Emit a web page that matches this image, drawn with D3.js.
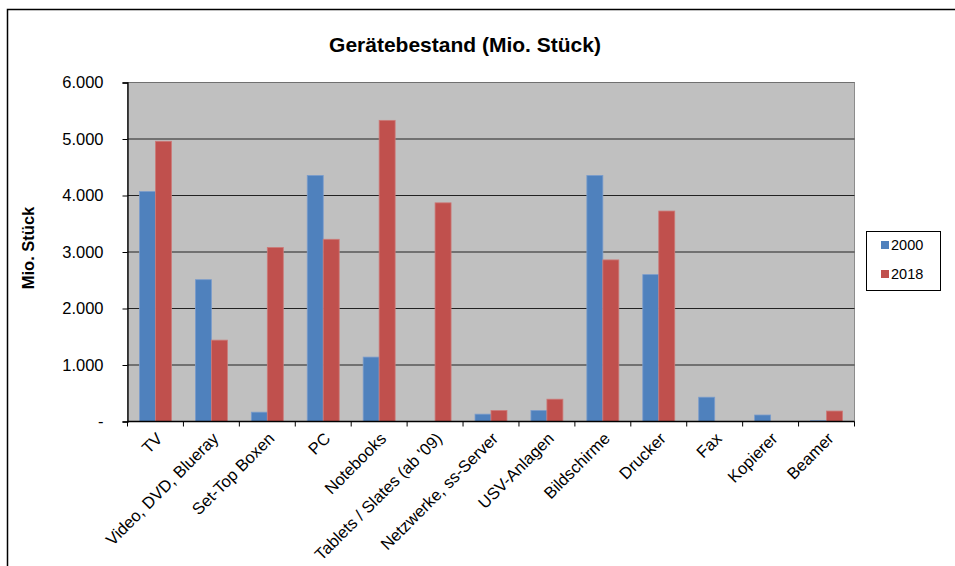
<!DOCTYPE html>
<html>
<head>
<meta charset="utf-8">
<script src="https://cdn.jsdelivr.net/npm/d3@7"></script>
<style>
  html, body { margin: 0; padding: 0; background: #fff; }
  svg { display: block; font-family: "Liberation Sans", Arial, sans-serif; }
</style>
</head>
<body>
<svg id="chart" width="955" height="566"></svg>
<script>
// Gerätebestand in Deutschland, Mio. Stück
const categories = ["TV", "Video, DVD, Blueray", "Set-Top Boxen", "PC", "Notebooks",
  "Tablets / Slates (ab '09)", "Netzwerke, ss-Server", "USV-Anlagen", "Bildschirme",
  "Drucker", "Fax", "Kopierer", "Beamer"];
const seriesNames = ["2000", "2018"];
const values2000 = [4070, 2510, 165, 4355, 1140, 0, 130, 195, 4355, 2600, 430, 115, 15];
const values2018 = [4960, 1440, 3080, 3225, 5330, 3870, 195, 395, 2860, 3725, 0, 0, 185];
const yTicks = [0, 1000, 2000, 3000, 4000, 5000, 6000];
const colors = ["#4f81bd", "#c0504d"];

const svg = d3.select("#chart");
const plot = { left: 127.5, top: 82.5, right: 854.5, bottom: 421.5 };

// outer frame (top and left edges visible)
svg.append("rect").attr("x", 7.5).attr("y", 9.5).attr("width", 1000).attr("height", 1000)
  .attr("fill", "#fff").attr("stroke", "#000").attr("stroke-width", 1.5);

const x = d3.scaleBand().domain(categories).range([plot.left, plot.right]).padding(0);
const y = d3.scaleLinear().domain([0, 6000]).range([plot.bottom, plot.top]);

// plot background
svg.append("rect").attr("x", plot.left).attr("y", plot.top)
  .attr("width", plot.right - plot.left).attr("height", plot.bottom - plot.top)
  .attr("fill", "#c0c0c0").attr("stroke", "#8c8c8c").attr("stroke-width", 1);

// horizontal gridlines
svg.append("g").selectAll("line").data(yTicks.filter(d => d > 0)).join("line")
  .attr("x1", plot.left).attr("x2", plot.right)
  .attr("y1", d => y(d)).attr("y2", d => y(d))
  .attr("stroke", d => d === 6000 ? "#707070" : "#222").attr("stroke-width", 1.2);

// bars: gap width 150% of a bar
const barW = x.bandwidth() / 3.5;
const groups = svg.append("g").selectAll("g").data(categories).join("g")
  .attr("transform", d => `translate(${x(d) + x.bandwidth() / 2 - barW},0)`);
[values2000, values2018].forEach((vals, si) => {
  groups.append("rect")
    .attr("x", si * barW)
    .attr("y", (d, i) => y(vals[i]))
    .attr("width", barW)
    .attr("height", (d, i) => y(0) - y(vals[i]))
    .attr("fill", colors[si])
    .attr("stroke", si === 0 ? "#7a9ccc" : "#cc7a78")
    .attr("stroke-width", (d, i) => vals[i] > 0 ? 0.8 : 0);
});

// y axis
const fmt = d => d === 0 ? "-" : d3.format(",")(d).replace(/,/g, ".");
const yAxis = svg.append("g").attr("transform", `translate(${plot.left},0)`)
  .call(d3.axisLeft(y).tickValues(yTicks).tickSize(5).tickPadding(19).tickFormat(fmt));
yAxis.select(".domain").attr("stroke", "#000").attr("stroke-width", 1.3);
yAxis.selectAll(".tick line").attr("stroke", "#000");
yAxis.selectAll("text").attr("font-size", 16.5).attr("fill", "#000")
  .attr("font-family", "Liberation Sans, Arial, sans-serif");

// x axis with ticks at category boundaries
const xAxisG = svg.append("g").attr("transform", `translate(0,${plot.bottom})`);
xAxisG.append("line").attr("x1", plot.left).attr("x2", plot.right)
  .attr("stroke", "#000").attr("stroke-width", 1.3);
const bounds = d3.range(categories.length + 1).map(i => plot.left + i * x.step());
xAxisG.selectAll("line.tk").data(bounds).join("line").attr("class", "tk")
  .attr("x1", d => d).attr("x2", d => d).attr("y1", 0).attr("y2", 5)
  .attr("stroke", "#000").attr("stroke-width", 1);
xAxisG.selectAll("text").data(categories).join("text")
  .attr("transform", d => `translate(${x(d) + x.bandwidth() / 2 + 4},${14}) rotate(-45)`)
  .attr("text-anchor", "end").attr("dy", "0.35em")
  .attr("font-size", 16.5).attr("fill", "#000")
  .text(d => d);

// title
svg.append("text").attr("x", 465).attr("y", 52).attr("text-anchor", "middle")
  .attr("font-size", 21).attr("font-weight", "bold").text("Gerätebestand (Mio. Stück)");

// y axis title
svg.append("text").attr("transform", `translate(34,248) rotate(-90)`)
  .attr("text-anchor", "middle").attr("font-size", 16.5).attr("font-weight", "bold")
  .text("Mio. Stück");

// legend
const lg = svg.append("g");
lg.append("rect").attr("x", 866.5).attr("y", 231.5).attr("width", 74).attr("height", 59)
  .attr("fill", "#fff").attr("stroke", "#000").attr("stroke-width", 1);
seriesNames.forEach((s, i) => {
  const cy = 245 + i * 29;
  lg.append("rect").attr("x", 881).attr("y", cy - 4).attr("width", 8).attr("height", 8)
    .attr("fill", colors[i]);
  lg.append("text").attr("x", 891).attr("y", cy).attr("dy", "0.35em")
    .attr("font-size", 14.5).text(s);
});
</script>
</body>
</html>
